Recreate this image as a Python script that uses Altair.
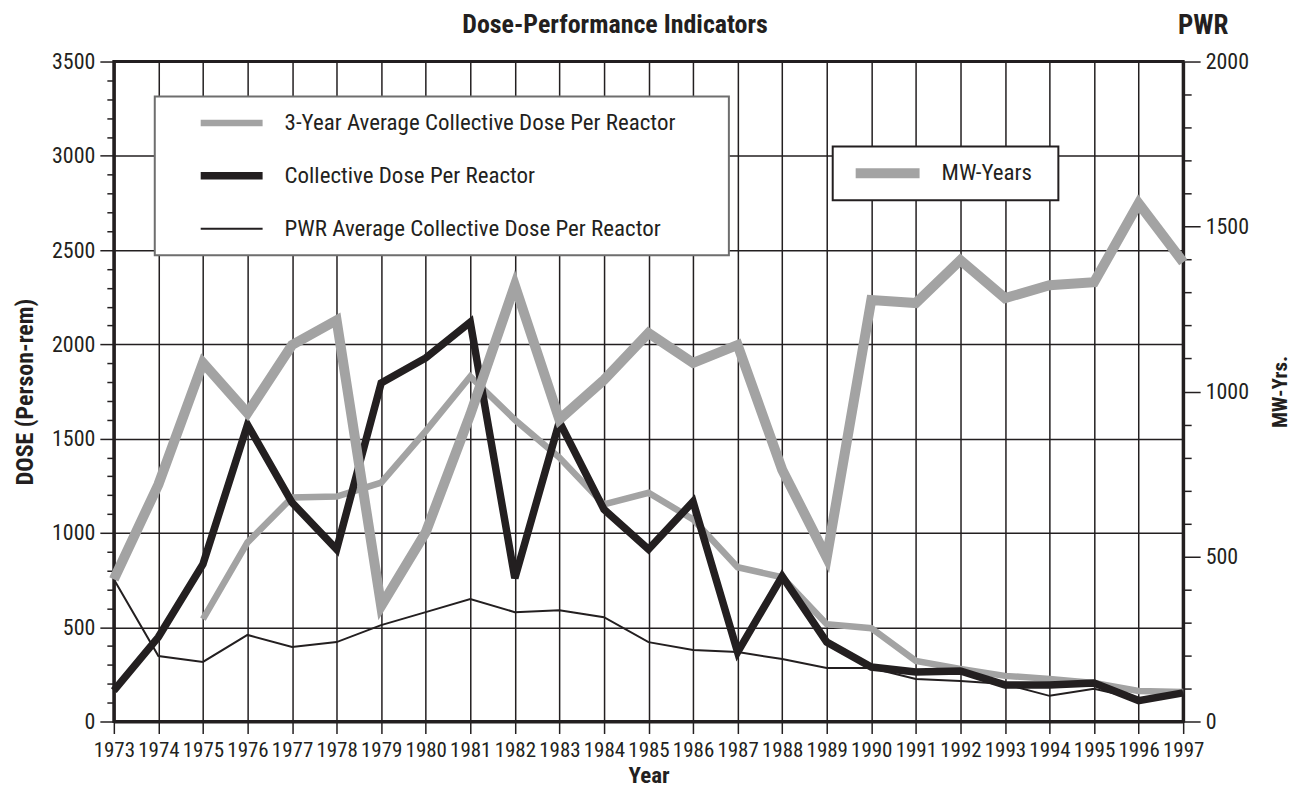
import altair as alt
import pandas as pd

years = list(range(1973, 1998))
collective = [164, 448, 834, 1574, 1161, 913, 1795, 1928, 2118, 760, 1590, 1125, 913,
              1166, 368, 770, 421, 289, 263, 268, 194, 194, 204, 111, 152]
three_year_years = list(range(1975, 1998))
three_year = [543, 950, 1188, 1193, 1267, 1540, 1830, 1600, 1400, 1151, 1213, 1072,
              818, 765, 516, 495, 321, 279, 242, 226, 204, 162, 156]
pwr_avg = [754, 347, 316, 459, 395, 421, 511, 580, 649, 580, 590, 553, 421, 379, 368,
           331, 284, 284, 226, 215, 199, 136, 173, 120, 146]
mw_years = [431, 718, 1087, 935, 1141, 1216, 350, 573, 930, 1322, 915, 1035, 1177,
            1087, 1141, 763, 497, 1277, 1268, 1398, 1283, 1322, 1331, 1570, 1392]

names = ["3-Year Average Collective Dose Per Reactor",
         "Collective Dose Per Reactor",
         "PWR Average Collective Dose Per Reactor"]
mw_name = "MW-Years"
title_text = "Dose-Performance Indicators"
corner_text = "PWR"

GRAY = "#a3a3a3"
BLACK = "#231f20"
FONT = "Roboto Condensed, DejaVu Sans Condensed, Liberation Sans Narrow, Arial Narrow, Roboto, sans-serif"

df_left = pd.concat([
    pd.DataFrame({"Year": three_year_years, "Dose": three_year, "Series": names[0]}),
    pd.DataFrame({"Year": years, "Dose": collective, "Series": names[1]}),
    pd.DataFrame({"Year": years, "Dose": pwr_avg, "Series": names[2]}),
])
df_mw = pd.DataFrame({"Year": years, "MW": mw_years, "Label": mw_name})

NBSP = "\u00a0"
ZWSP = "\u200b"

x_enc = alt.X("Year:Q",
              scale=alt.Scale(domain=[1973, 1997], nice=False, zero=False),
              axis=alt.Axis(values=years, format="d", title="Year", tickSize=12,
                            labelFontSize=21, labelPadding=6, grid=True, labelOverlap=False,
                            titleFontSize=23, titleFontWeight="bold", titlePadding=4,
                            labelFlush=False))

y_left = alt.Y("Dose:Q",
               scale=alt.Scale(domain=[0, 3500], nice=False),
               axis=alt.Axis(values=list(range(0, 3501, 100)), format="d",
                             tickSize={"condition": {"test": "datum.value % 500 === 0", "value": 14}, "value": 7},
                             gridOpacity={"condition": {"test": "datum.value % 500 === 0", "value": 1}, "value": 0},
                             labelExpr="datum.value % 500 === 0 ? datum.label : ''",
                             grid=True, labelFontSize=22, labelPadding=5, labelOverlap=False,
                             title="DOSE (Person-rem)", titleFontSize=24,
                             titleFontWeight="bold", titlePadding=14))

leg1 = alt.Legend(title=None, orient="none", legendX=41, legendY=35, direction="vertical",
                  symbolType="stroke", symbolSize=3844, symbolOffset=42, labelOffset=18,
                  clipHeight=53, padding=0, rowPadding=0, fillColor="white",
                  strokeColor="#6e6e6e", labelFontSize=23, labelColor=BLACK,
                  labelLimit=0, labelExpr="datum.label + '" + NBSP * 10 + ZWSP + "'")

color_left = alt.Color("Series:N", scale=alt.Scale(domain=names, range=[GRAY, BLACK, BLACK]),
                       legend=leg1)
width_left = alt.StrokeWidth("Series:N",
                             scale=alt.Scale(type="ordinal", domain=names, range=[6.5, 7.5, 2]),
                             legend=leg1)

layers_left = []
for nm in names:
    layers_left.append(
        alt.Chart(df_left).transform_filter(alt.datum.Series == nm)
        .mark_line(strokeJoin="miter")
        .encode(x=x_enc, y=y_left, color=color_left, strokeWidth=width_left)
    )
left = alt.layer(layers_left[0], layers_left[2], layers_left[1])

leg2 = alt.Legend(title=None, orient="none", legendX=720, legendY=85,
                  symbolType="stroke", symbolSize=4096, symbolOffset=18, labelOffset=17,
                  clipHeight=54, padding=0, fillColor="white", strokeColor=BLACK,
                  labelFontSize=23, labelColor=BLACK, labelLimit=0,
                  labelExpr="datum.label + '" + NBSP * 5 + ZWSP + "'")

mw = alt.Chart(df_mw).mark_line(strokeJoin="miter").encode(
    x=x_enc,
    y=alt.Y("MW:Q", scale=alt.Scale(domain=[0, 2000], nice=False),
            axis=alt.Axis(orient="right", values=list(range(0, 2001, 100)), format="d",
                          tickSize={"condition": {"test": "datum.value % 500 === 0", "value": 17}, "value": 8},
                          labelExpr="datum.value % 500 === 0 ? datum.label : ''",
                          grid=False, labelFontSize=22, labelPadding=5, labelOverlap=False,
                          title="MW-Yrs.", titleFontSize=21, titleFontWeight="bold",
                          titleAngle=270, titlePadding=42)),
    color=alt.Color("Label:N", scale=alt.Scale(domain=[mw_name], range=[GRAY]), legend=leg2),
    strokeWidth=alt.StrokeWidth("Label:N",
                                scale=alt.Scale(type="ordinal", domain=[mw_name], range=[10]),
                                legend=leg2),
)

title_mark = alt.Chart(pd.DataFrame({"t": [title_text]})).mark_text(
    font=FONT, fontSize=26, fontWeight="bold", color=BLACK, align="center", baseline="alphabetic"
).encode(x=alt.value(502), y=alt.value(-29), text="t:N")

pwr_mark = alt.Chart(pd.DataFrame({"t": [corner_text]})).mark_text(
    font=FONT, fontSize=27, fontWeight="bold", color=BLACK, align="center", baseline="alphabetic"
).encode(x=alt.value(1091), y=alt.value(-28), text="t:N")

chart = alt.layer(left, mw, title_mark, pwr_mark).resolve_scale(
    y="independent", color="independent", strokeWidth="independent"
).properties(
    width=1071, height=661,
    autosize=alt.AutoSizeParams(type="none"),
    padding={"left": 106, "top": 53, "right": 110, "bottom": 68},
).configure_view(
    stroke=BLACK, strokeWidth=3
).configure_axis(
    labelFont=FONT, titleFont=FONT, labelColor=BLACK, titleColor=BLACK,
    tickColor=BLACK, domainColor=BLACK, gridColor=BLACK, domainWidth=3,
    tickWidth=1.5, gridWidth=1.5
).configure_legend(
    labelFont=FONT, strokeWidth=2
)

chart.save("out.html", embed_options={"renderer": "svg", "actions": False})
